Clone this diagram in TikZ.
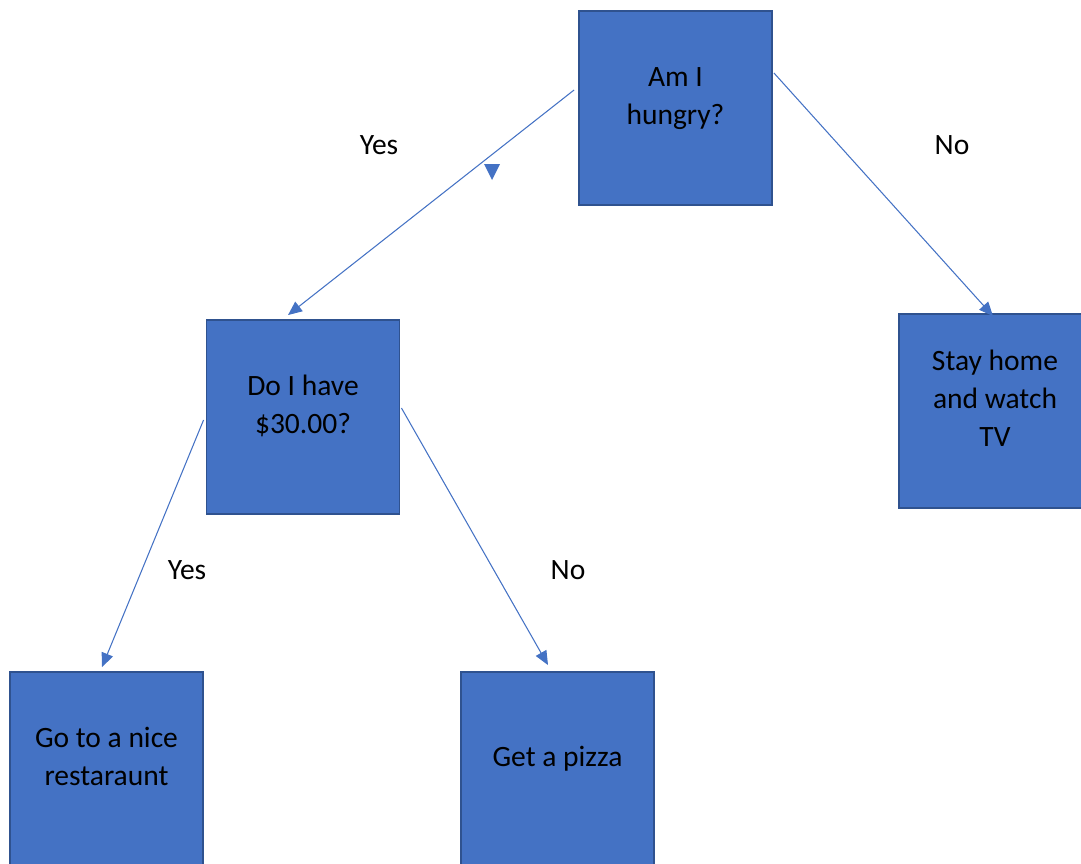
\documentclass[tikz,border=0pt]{standalone}
\usepackage{fontspec}
\setmainfont{Carlito}
\usepackage{xcolor}
\usetikzlibrary{positioning,arrows.meta}
\definecolor{boxfill}{HTML}{4472C4}
\definecolor{boxline}{HTML}{2F528F}
\definecolor{linkcol}{HTML}{4472C4}
% text sits a little above the middle of a box
\newcommand{\boxtext}[1]{\raisebox{0pt}[\height][\dimexpr\depth+0.4cm\relax]{\begin{tabular}{@{}c@{}}#1\end{tabular}}}

\begin{document}
\begin{tikzpicture}[
  x=0.02cm, y=-0.02cm,
  box/.style={draw=boxline, line width=1.1pt, fill=boxfill, minimum width=3.86cm,
              minimum height=3.88cm, inner sep=0pt,
              font=\fontsize{16.8pt}{21.6pt}\selectfont},
  lbl/.style={font=\fontsize{16.8pt}{21.6pt}\selectfont},
  arrow/.style={-{Triangle[length=0.28cm, width=0.24cm]}, draw=linkcol, line width=0.6pt}
]
  \useasboundingbox (0,0) rectangle (1081,863);
  \clip (0,0) rectangle (1081,863);

  \node[box] (hungry) at (675.5,108) {\boxtext{Am I\\hungry?}};
  \node[box] (money) at (303,417) {\boxtext{Do I have\\\$30.00?}};
  \node[box] (home) at (995,411) {\boxtext{Stay home\\and watch\\TV}};
  \node[box] (nice) at (106.5,769) {\boxtext{Go to a nice\\restaraunt}};
  \node[box] (pizza) at (557.5,769) {\boxtext{Get a pizza}};

  \draw[arrow] ([shift={(-4,-18)}]hungry.west) -- ([shift={(-15,-4)}]money.north);
  \draw[arrow] ([shift={(1,-35)}]hungry.east) -- ([shift={(-2,3)}]home.north);
  \draw[arrow] ([shift={(-2,3)}]money.west) -- ([shift={(-4.5,-4)}]nice.north);
  \draw[arrow] ([shift={(1,-9)}]money.east) -- ([shift={(-9.5,-6)}]pizza.north);

  % loose arrow head
  \fill[linkcol] (484,164) -- (500,164) -- (492,180) -- cycle;

  \node[lbl] (yes1) at (379,145) {Yes};
  \node[lbl] (no1) at (952,145) {No};
  \node[lbl] (yes2) at (187,570) {Yes};
  \node[lbl] (no2) at (568,570) {No};
\end{tikzpicture}
\end{document}
